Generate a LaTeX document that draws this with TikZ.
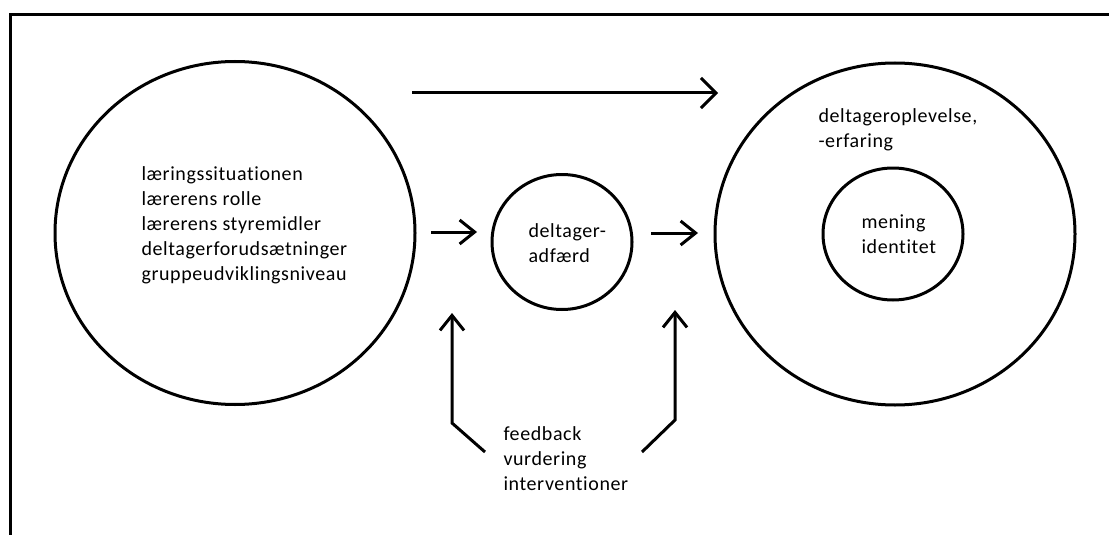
\documentclass[tikz,border=0pt]{standalone}
\usepackage{fontspec}
\setmainfont{Carlito}[Ligatures=NoCommon, LetterSpace=3]
\usetikzlibrary{arrows.meta,shapes.geometric}

\begin{document}
\begin{tikzpicture}[x=1pt, y=-1pt, line width=3pt,
    ring/.style={draw, ellipse, inner sep=0pt},
    txt/.style={anchor=base west, align=left, inner sep=0pt,
        font=\fontsize{20}{25}\selectfont},
    flow/.style={-{Straight Barb[length=15pt, width=24pt, line width=3pt]}},
    bigflow/.style={-{Straight Barb[length=15pt, width=30pt, line width=3pt]}}]
    \useasboundingbox (0,0) rectangle (1109,535);

    % Frame
    \draw (10,535) -- (10,15) -- (1109,15);

    % Circles
    \node[ring, minimum width=360pt, minimum height=343pt] (situation) at (235,233) {};
    \node[ring, minimum width=140pt, minimum height=135pt] (behaviour) at (562,242) {};
    \node[ring, minimum width=360pt, minimum height=342pt] (experience) at (895,234) {};
    \node[ring, minimum width=140pt, minimum height=132pt] (meaning) at (893,234) {};

    % Texts (anchored at the baseline of the last line)
    \node[txt] (factors) at (140,280) {læringssituationen\\lærerens rolle\\lærerens styremidler\\deltagerforudsætninger\\gruppeudviklingsniveau};
    \node[txt] (behtext) at (527,262) {deltager-\\adfærd};
    \node[txt] (exptext) at (817,147) {deltageroplevelse,\\-erfaring};
    \node[txt] (meantext) at (860,253) {mening\\identitet};
    \node[txt] (feedback) at (502,490) {feedback\\vurdering\\interventioner};

    % Arrow ends
    \coordinate (topA) at (412,93);
    \coordinate (topB) at (718,93);
    \coordinate (midA) at (431,232);
    \coordinate (midB) at (477,232);
    \coordinate (rightA) at (651,233);
    \coordinate (rightB) at (698,233);
    \coordinate (fbL) at (485,452);
    \coordinate (fbLk) at (452,423);
    \coordinate (fbLt) at (452,313);
    \coordinate (fbR) at (642,452);
    \coordinate (fbRk) at (675,420);
    \coordinate (fbRt) at (675,310);

    % Arrows
    \draw[bigflow] (topA) -- (topB);
    \draw[flow] (midA) -- (midB);
    \draw[flow] (rightA) -- (rightB);
    \draw[flow] (fbL) -- (fbLk) -- (fbLt);
    \draw[flow] (fbR) -- (fbRk) -- (fbRt);
\end{tikzpicture}
\end{document}
